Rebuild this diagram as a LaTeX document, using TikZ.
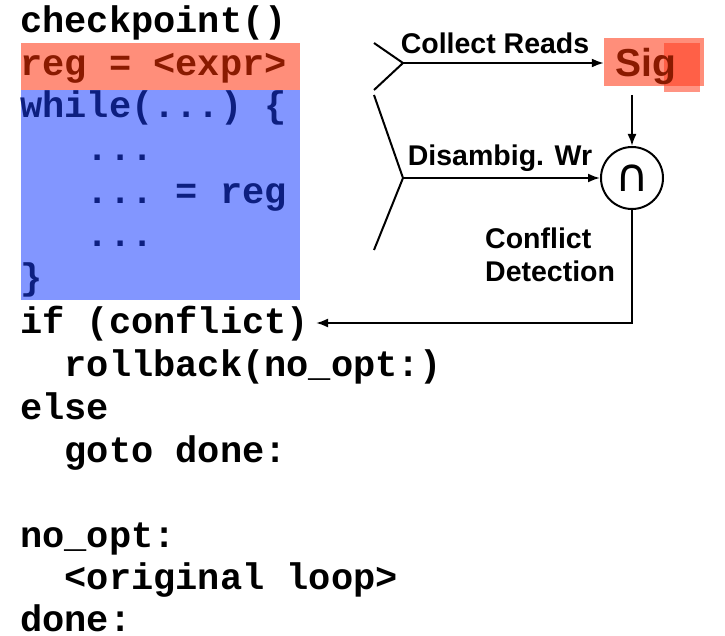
\documentclass[tikz,border=0pt]{standalone}
\usepackage{fontspec}
\setmainfont{Liberation Sans}
\setmonofont{Liberation Mono}
\newfontfamily\symfont{DejaVu Sans}
\usetikzlibrary{arrows.meta}
\definecolor{redfill}{HTML}{FF8E7A}
\definecolor{bluefill}{HTML}{8296FF}
\definecolor{redtext}{HTML}{8A1A00}
\definecolor{bluetext}{HTML}{0D1F80}
\definecolor{sigover}{HTML}{FF3C1E}
\begin{document}
\begin{tikzpicture}[x=1pt,y=-1pt,
  code/.style={anchor=base west, inner sep=0pt, font=\ttfamily\bfseries\fontsize{37}{43}\selectfont},
  lab/.style={inner sep=0pt, font=\bfseries\fontsize{28.5}{33}\selectfont},
  wire/.style={line width=2pt},
  arr/.style={wire, -{Latex[length=12pt,width=9pt]}}]
\useasboundingbox (0,0) rectangle (725,636);
% highlighted regions
\node[fill=redfill, minimum width=279pt, minimum height=47pt, inner sep=0pt, anchor=north west] (regbox) at (21,43) {};
\node[fill=bluefill, minimum width=279pt, minimum height=210pt, inner sep=0pt, anchor=north west] (loopbox) at (21,90) {};
% code lines
\node[code] (c1) at (20,33) {checkpoint()};
\node[code, text=redtext] (c2) at (20,76) {reg = <expr>};
\node[code, text=bluetext] (c3) at (20,118) {while(...) \{};
\node[code, text=bluetext] (c4) at (86.6,161) {...};
\node[code, text=bluetext] (c5) at (86.6,204) {... = reg};
\node[code, text=bluetext] (c6) at (86.6,247) {...};
\node[code, text=bluetext] (c7) at (20,290) {\}};
\node[code] (c8) at (20,333) {if (conflict)};
\node[code] (c9) at (64.4,376) {rollback(no\_opt:)};
\node[code] (c10) at (20,419) {else};
\node[code] (c11) at (64.4,462) {goto done:};
\node[code] (c12) at (20,547) {no\_opt:};
\node[code] (c13) at (64.4,589) {<original loop>};
\node[code] (c14) at (20,631) {done:};
% signature box
\node[fill=redfill, minimum width=100pt, minimum height=48pt, inner sep=0pt] (sig) at (654,62) {};
\fill[sigover, fill opacity=0.55] (664,43) rectangle (700,92);
\node[anchor=base west, inner sep=0pt, text=redtext, font=\bfseries\fontsize{39}{39}\selectfont] (sigtxt) at (615,77) {Sig};
% intersection
\node[circle, draw, line width=2pt, minimum size=62pt, inner sep=0pt] (circ) at (632,178) {\symfont\fontsize{46}{46}\selectfont ∩};
% brackets
\coordinate (b1) at (403,63);
\coordinate (b2) at (403,178);
\draw[wire] (374,43) -- (b1) -- (374,90);
\draw[wire] (374,95) -- (b2) -- (374,250);
\draw[arr] (b1) -- (b1 -| sig.west);
\draw[arr] (b2) -- (circ.west);
\coordinate (sigout) at (632,95);
\draw[arr] (sigout) -- (circ.north);
\coordinate (ifend) at (316,323);
\draw[arr] (circ.south) |- (ifend);
% labels
\node[lab, anchor=base] (l1) at (495,54) {Collect Reads};
\node[lab, anchor=base] (l2) at (500,166) {Disambig. Wr};
\node[lab, anchor=base west, align=left] (l3) at (485,281) {Conflict\\Detection};
\end{tikzpicture}
\end{document}
